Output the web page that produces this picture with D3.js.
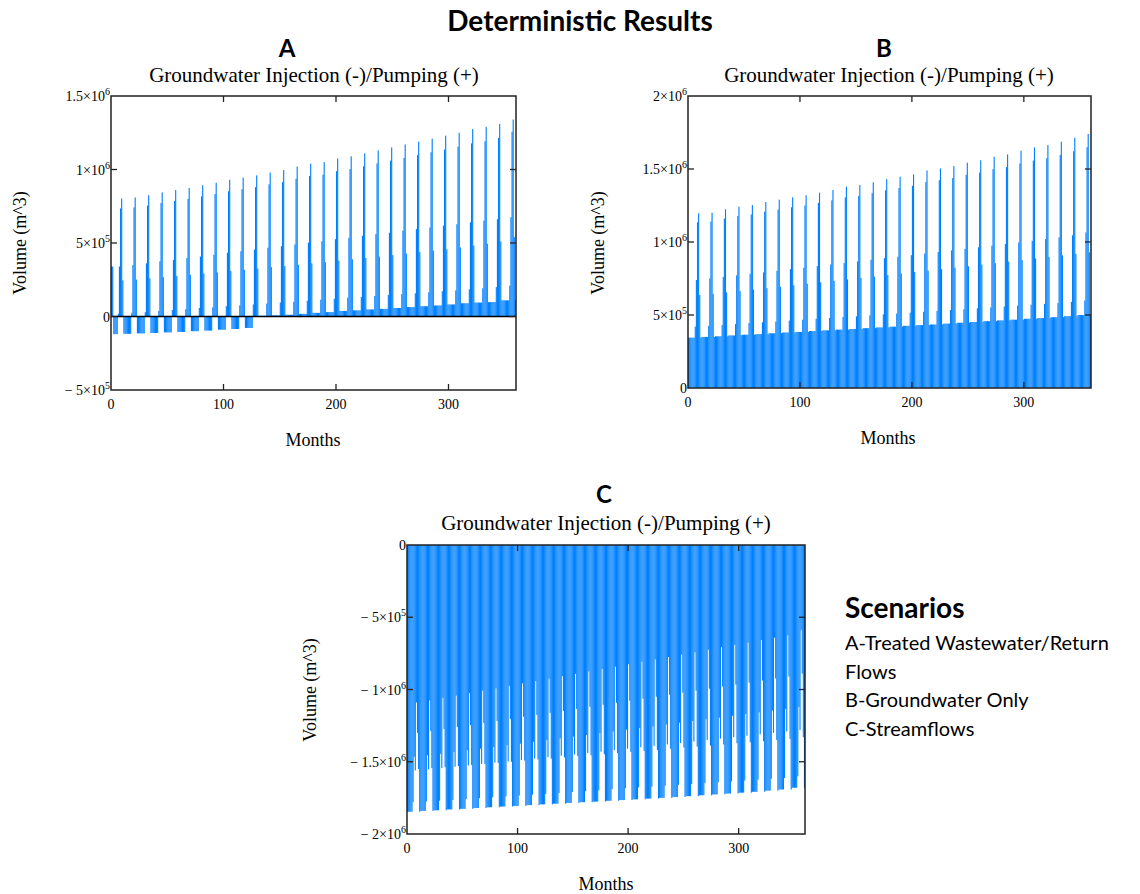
<!DOCTYPE html>
<html>
<head>
<meta charset="utf-8">
<script src="https://cdn.jsdelivr.net/npm/d3@7"></script>
<style>
  body { margin: 0; background: #fff; }
</style>
</head>
<body>
<div id="chart"></div>
<script>
// ---------------------------//
//       DATA                 //
// ---------------------------//
// monthly volumes in 1000 m^3, one value per year for each month-of-year role
const years = d3.range(30);
const xTicks = [0, 100, 200, 300];

// A - treated wastewater / return flows
const aOff  = [-120,-118,-115,-112,-108,-105,-100,-96,-90,-85,-78,5,8,12,18,25,30,38,42,48,52,58,64,70,75,82,90,95,98,110];
const aPre  = [20,26,30,38,44,50,58,62,70,76,82,88,95,100,108,114,120,128,133,140,146,152,158,165,172,178,185,192,200,210];
const aRise = [340,350,362,376,385,398,408,420,434,444,455,468,478,490,503,512,526,536,549,560,570,584,595,605,618,628,641,652,662,675];
const aSec  = [735,742,755,772,787,800,817,833,852,866,880,899,914,937,956,965,989,1003,1022,1041,1060,1079,1098,1117,1136,1155,1178,1192,1215,1257];
const aPeak = [803,810,825,844,860,875,893,910,930,945,960,980,996,1020,1040,1050,1075,1090,1110,1130,1150,1170,1190,1210,1230,1250,1275,1290,1310,1340];
const aPost = [245,252,260,268,276,284,292,300,310,318,326,336,344,352,362,370,380,390,398,408,418,428,438,448,458,470,482,495,510,540];
const aFirst = [340, 340];

// B - groundwater only
const bOff  = [345,350,354,360,365,369,375,380,384,390,395,400,404,410,415,420,426,431,435,441,447,452,458,463,468,474,479,485,492,500];
const bPre  = [420,426,431,438,444,450,455,462,468,474,480,486,491,498,504,510,516,522,528,534,540,546,552,558,564,570,576,582,590,600];
const bRise = [740,750,760,772,782,792,803,814,824,835,846,856,867,878,889,899,910,921,932,943,953,964,975,986,997,1008,1020,1032,1046,1066];
const bSec  = [1135,1140,1160,1178,1188,1208,1222,1238,1250,1268,1285,1305,1316,1334,1354,1370,1385,1410,1423,1438,1460,1476,1498,1513,1537,1558,1574,1596,1622,1650];
const bPeak = [1196,1200,1224,1242,1253,1274,1290,1306,1320,1338,1356,1379,1390,1409,1430,1447,1463,1490,1504,1520,1543,1560,1584,1600,1625,1648,1664,1687,1714,1740];
const bPost = [637,645,655,664,674,684,694,704,714,724,734,744,754,764,774,784,794,804,814,824,834,845,855,866,876,887,898,909,919,930];

// C - streamflows (injection, negative)
const cOff = [-1846,-1840,-1836,-1830,-1826,-1820,-1815,-1810,-1806,-1800,-1795,-1790,-1785,-1780,-1776,-1770,-1765,-1760,-1755,-1750,-1744,-1738,-1732,-1726,-1720,-1714,-1708,-1700,-1692,-1680];
const c5   = [-1780,-1775,-1770,-1764,-1758,-1752,-1746,-1740,-1734,-1728,-1722,-1716,-1710,-1704,-1698,-1690,-1684,-1678,-1672,-1666,-1660,-1654,-1648,-1642,-1636,-1630,-1624,-1618,-1612,-1600];
const c6   = [-1465,-1455,-1445,-1432,-1420,-1410,-1398,-1386,-1375,-1362,-1350,-1338,-1326,-1315,-1302,-1290,-1278,-1266,-1255,-1242,-1230,-1218,-1206,-1195,-1182,-1170,-1158,-1146,-1134,-1120];
const c7   = [-1560,-1552,-1544,-1534,-1526,-1516,-1506,-1498,-1488,-1478,-1468,-1458,-1450,-1440,-1430,-1420,-1410,-1400,-1390,-1380,-1370,-1360,-1350,-1340,-1330,-1320,-1310,-1300,-1290,-1280];
const c8   = [-1090,-1075,-1058,-1042,-1025,-1008,-992,-975,-958,-942,-925,-908,-892,-875,-858,-842,-825,-808,-792,-775,-758,-742,-725,-708,-692,-675,-658,-642,-625,-590];
const c9   = [-1300,-1288,-1274,-1260,-1246,-1232,-1218,-1205,-1190,-1176,-1162,-1148,-1135,-1120,-1106,-1092,-1078,-1064,-1050,-1036,-1022,-1008,-994,-980,-966,-952,-938,-924,-910,-890];
const c10  = [-1550,-1544,-1538,-1530,-1522,-1515,-1508,-1500,-1492,-1485,-1478,-1470,-1462,-1455,-1448,-1440,-1432,-1425,-1418,-1410,-1402,-1395,-1388,-1380,-1372,-1365,-1358,-1350,-1342,-1330];

const aTicks = [-5e5, 0, 5e5, 1e6, 1.5e6];
const bTicks = [0, 5e5, 1e6, 1.5e6, 2e6];
const cTicks = [-2e6, -1.5e6, -1e6, -5e5, 0];

// month-of-year layout of each series
function seriesA() {
  const out = [];
  years.forEach(k => {
    const next = aOff[Math.min(k + 1, 29)];
    const row = [aOff[k], aOff[k], aOff[k], aOff[k], aOff[k], aOff[k],
                 aPre[k], aRise[k], aSec[k], aPeak[k], aPost[k], next];
    row.forEach(v => out.push(v * 1000));
  });
  aFirst.forEach((v, i) => out[i] = v * 1000);
  return out;
}
function seriesB() {
  const out = [];
  years.forEach(k => {
    const row = [bOff[k], bOff[k], bOff[k], bOff[k], bOff[k], bOff[k],
                 bPre[k], bRise[k], bSec[k], bPeak[k], bPost[k], bOff[k]];
    row.forEach(v => out.push(v * 1000));
  });
  return out;
}
function seriesC() {
  const out = [];
  years.forEach(k => {
    const row = [cOff[k], cOff[k], cOff[k], cOff[k], cOff[k], c5[k],
                 c6[k], c7[k], c8[k], c9[k], c10[k], cOff[k]];
    row.forEach(v => out.push(v * 1000));
  });
  return out;
}

// ---------------------------//
//       SVG                  //
// ---------------------------//
const W = 1140, H = 894;
const svg = d3.select("#chart")
  .append("svg")
    .attr("width", W)
    .attr("height", H);

const serif = "'Liberation Serif', 'Times New Roman', serif";
const sans = "Lato, 'Open Sans', sans-serif";
const blue = "#0080ff";

// main title
svg.append("text")
    .attr("x", 580).attr("y", 31)
    .attr("text-anchor", "middle")
    .style("font-family", sans).style("font-weight", "bold").style("font-size", "28px")
    .text("Deterministic Results");

// tick label like 1.5x10^6
function tickLabel(sel, v) {
  if (v === 0) { sel.text("0"); return; }
  const e = Math.floor(Math.log10(Math.abs(v)));
  const m = Math.abs(v) / Math.pow(10, e);
  sel.append("tspan").text((v < 0 ? "\u2212 " : "") + m + "\u00d710");
  sel.append("tspan").attr("dy", -6).style("font-size", "10px").text(e);
}

function panel(cfg) {
  const x = d3.scaleLinear().domain([0, 360]).range(cfg.xr);
  const y = d3.scaleLinear().domain(cfg.yd).range(cfg.yr);
  const g = svg.append("g");
  const data = cfg.values;

  // bars
  g.append("g")
    .selectAll("rect")
    .data(data)
    .join("rect")
      .attr("x", (d, i) => x(i))
      .attr("width", x(1) - x(0))
      .attr("y", d => Math.min(y(d), y(0)))
      .attr("height", d => Math.abs(y(d) - y(0)))
      .attr("fill", blue);

  // zero line
  if (cfg.yd[0] < 0 && cfg.yd[1] > 0) {
    g.append("line")
      .attr("x1", cfg.xr[0]).attr("x2", cfg.xr[1])
      .attr("y1", y(0)).attr("y2", y(0))
      .attr("stroke", "#000").attr("stroke-width", 1.5);
  }

  // frame
  g.append("rect")
    .attr("x", cfg.xr[0]).attr("y", cfg.yr[1])
    .attr("width", cfg.xr[1] - cfg.xr[0])
    .attr("height", cfg.yr[0] - cfg.yr[1])
    .attr("fill", "none")
    .attr("stroke", "#222").attr("stroke-width", 1.5);

  // inward ticks
  const tl = 6;
  cfg.ticks.forEach(t => {
    if (t === cfg.yd[0] || t === cfg.yd[1]) return;
    g.append("line").attr("x1", cfg.xr[0]).attr("x2", cfg.xr[0] + tl)
      .attr("y1", y(t)).attr("y2", y(t)).attr("stroke", "#222").attr("stroke-width", 1.3);
    g.append("line").attr("x1", cfg.xr[1]).attr("x2", cfg.xr[1] - tl)
      .attr("y1", y(t)).attr("y2", y(t)).attr("stroke", "#222").attr("stroke-width", 1.3);
  });
  xTicks.forEach(t => {
    if (t === 0) return;
    g.append("line").attr("x1", x(t)).attr("x2", x(t))
      .attr("y1", cfg.yr[0]).attr("y2", cfg.yr[0] - tl).attr("stroke", "#222").attr("stroke-width", 1.3);
    g.append("line").attr("x1", x(t)).attr("x2", x(t))
      .attr("y1", cfg.yr[1]).attr("y2", cfg.yr[1] + tl).attr("stroke", "#222").attr("stroke-width", 1.3);
  });

  // y tick labels
  cfg.ticks.forEach(t => {
    const txt = g.append("text")
      .attr("x", cfg.xr[0] - 1).attr("y", y(t) + 5)
      .attr("text-anchor", "end")
      .style("font-family", serif).style("font-size", "14px");
    tickLabel(txt, t);
  });
  // x tick labels
  xTicks.forEach(t => {
    g.append("text")
      .attr("x", x(t)).attr("y", cfg.yr[0] + 19)
      .attr("text-anchor", "middle")
      .style("font-family", serif).style("font-size", "14px")
      .text(t);
  });

  // panel letter and subtitle
  g.append("text")
    .attr("x", cfg.letterX).attr("y", cfg.letterY)
    .attr("text-anchor", "middle")
    .style("font-family", sans).style("font-weight", "bold").style("font-size", "24px")
    .text(cfg.letter);
  g.append("text")
    .attr("x", cfg.subX).attr("y", cfg.subY)
    .attr("text-anchor", "middle")
    .style("font-family", serif).style("font-size", "21px")
    .text("Groundwater Injection (-)/Pumping (+)");

  // axis labels
  g.append("text")
    .attr("transform", `translate(${cfg.ylabX},${cfg.ylabY}) rotate(-90)`)
    .attr("text-anchor", "middle")
    .style("font-family", serif).style("font-size", "18px")
    .text("Volume (m^3)");
  g.append("text")
    .attr("x", cfg.xlabX).attr("y", cfg.xlabY)
    .attr("text-anchor", "middle")
    .style("font-family", serif).style("font-size", "18px")
    .text("Months");
}

panel({
  values: seriesA(), xr: [111, 516], yd: [-5e5, 1.5e6], yr: [390, 96], ticks: aTicks,
  letter: "A", letterX: 287, letterY: 57, subX: 314, subY: 82,
  ylabX: 26, ylabY: 243, xlabX: 313, xlabY: 446
});
panel({
  values: seriesB(), xr: [688, 1091], yd: [0, 2e6], yr: [388, 96], ticks: bTicks,
  letter: "B", letterX: 884, letterY: 57, subX: 889, subY: 82,
  ylabX: 604, ylabY: 243, xlabX: 888, xlabY: 444
});
panel({
  values: seriesC(), xr: [407, 805], yd: [-2e6, 0], yr: [834, 545], ticks: cTicks,
  letter: "C", letterX: 604, letterY: 503, subX: 606, subY: 530,
  ylabX: 316, ylabY: 690, xlabX: 606, xlabY: 890
});

// ---------------------------//
//       SCENARIOS NOTE       //
// ---------------------------//
const notes = ["A-Treated Wastewater/Return", "Flows", "B-Groundwater Only", "C-Streamflows"];
svg.append("text")
    .attr("x", 845).attr("y", 618)
    .style("font-family", sans).style("font-weight", "bold").style("font-size", "28px")
    .text("Scenarios");
svg.selectAll("note")
  .data(notes)
  .join("text")
    .attr("x", 845)
    .attr("y", (d, i) => 650 + i * 28.5)
    .style("font-family", sans).style("font-size", "20px")
    .text(d => d);
</script>
</body>
</html>
